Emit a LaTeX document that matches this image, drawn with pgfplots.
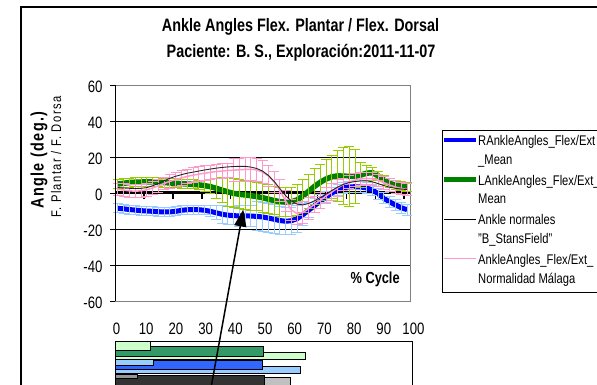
\documentclass[border=0pt]{standalone}
\usepackage{pgfplots}
\pgfplotsset{compat=1.18}
\usepackage{pgfplotstable}
\usepackage{fontspec}
\setmainfont{Liberation Sans}[FakeStretch=0.8]
\usetikzlibrary{arrows.meta}
\definecolor{errblue}{HTML}{99CCFF}
\definecolor{errgreen}{HTML}{99CC00}
\definecolor{pinkc}{HTML}{FF99CC}
\definecolor{mgreen}{HTML}{008000}
\definecolor{lgreen}{HTML}{CCFFCC}
\definecolor{dgreen}{HTML}{339966}
\definecolor{lblue}{HTML}{99CCFF}
\definecolor{mblue}{HTML}{3366FF}
\definecolor{sgray}{HTML}{969696}
\definecolor{dgray}{HTML}{333333}
\definecolor{lgray}{HTML}{C0C0C0}

\pgfplotstableread{
x r re l le n p pe
0 -8.5 2.5 5.0 2.5 3.0 2.0 3.5
2 -8.8 2.5 5.4 2.5 2.8 1.6 3.5
4 -9.2 2.5 5.8 2.5 2.6 1.2 3.5
6 -9.5 2.5 6.0 2.5 2.5 1.0 3.5
8 -9.8 2.5 6.1 2.5 2.6 1.2 3.5
10 -10.0 2.5 6.2 2.5 3.0 1.8 3.5
12 -10.2 2.5 6.2 2.5 4.0 2.8 3.5
14 -10.4 2.5 6.0 2.5 5.3 4.0 3.5
16 -10.5 2.5 5.8 2.5 6.8 5.3 3.5
18 -10.5 2.5 5.6 2.5 8.2 6.5 4.0
20 -10.2 2.5 5.4 2.5 9.3 7.5 4.0
22 -9.6 2.5 5.2 2.5 10.2 8.4 4.0
24 -9.3 2.5 5.0 2.5 11.0 9.2 4.0
26 -9.2 2.5 4.8 2.5 11.6 9.9 4.0
28 -9.3 2.5 4.5 2.5 12.2 10.5 4.0
30 -9.6 2.5 4.1 3.0 12.8 11.0 4.0
32 -10.2 3.0 3.5 4.0 13.3 11.5 4.0
34 -11.0 4.0 2.6 5.5 13.8 11.9 4.0
36 -11.8 5.0 1.6 7.0 14.2 12.2 4.0
38 -12.3 5.0 0.6 8.0 14.5 12.5 4.0
40 -12.6 5.0 -0.2 8.0 14.7 12.7 6.5
42 -12.7 6.0 -0.7 8.0 14.8 12.9 6.5
44 -12.7 6.0 -1.1 8.0 14.8 13.1 6.5
46 -12.8 6.0 -1.5 8.0 14.4 13.2 6.5
48 -13.0 8.0 -2.0 8.0 13.6 12.8 6.5
50 -13.3 8.0 -2.6 8.0 12.2 11.6 6.5
52 -13.9 8.0 -3.4 8.0 9.8 9.5 6.0
54 -14.6 8.0 -4.2 8.0 6.5 6.2 6.0
56 -15.3 8.0 -4.8 8.0 2.5 1.5 6.0
58 -15.7 7.5 -5.1 8.0 -1.5 -4.5 6.0
60 -15.4 7.5 -4.9 8.0 -4.5 -9.5 6.0
62 -14.2 7.5 -3.8 8.5 -6.2 -11.5 6.0
64 -12.0 6.0 -1.6 9.0 -6.6 -10.8 6.0
66 -9.5 4.0 1.0 9.5 -5.8 -8.6 6.0
68 -7.0 4.0 3.7 10.0 -4.3 -6.3 4.5
70 -4.6 4.0 6.0 10.0 -2.5 -4.0 4.5
72 -2.2 3.0 7.8 11.0 -0.6 -1.6 4.5
74 0.0 3.0 9.0 12.0 1.4 0.6 4.5
76 1.8 3.0 9.5 14.0 3.3 2.8 4.5
78 2.9 3.0 9.4 16.0 4.8 4.8 3.5
80 3.4 3.0 9.2 16.5 5.8 6.2 3.5
82 3.5 3.0 9.3 15.0 6.4 7.2 3.5
84 3.3 3.0 10.0 7.0 6.8 7.8 3.5
86 2.8 3.0 11.0 4.0 6.8 8.1 3.5
88 1.7 3.0 11.3 3.0 6.2 7.9 3.5
90 -0.4 3.0 9.5 2.5 5.2 7.0 3.5
92 -3.0 3.0 7.2 2.5 4.1 5.7 3.5
94 -5.0 3.0 5.3 2.5 3.2 4.4 3.5
96 -6.6 3.0 4.4 2.5 2.6 3.3 3.5
98 -8.2 3.0 3.8 2.5 2.2 2.5 3.5
100 -9.3 3.0 3.5 2.5 1.9 2.0 3.5
}\gaitdata

\begin{document}
\begin{tikzpicture}[x=1bp,y=1bp]
\useasboundingbox (0,0) rectangle (597,384);
\clip (0,0) rectangle (597,384);
\draw[line width=1.5bp] (21,377) rectangle (640,-30);

% titles
\node[anchor=base, font=\bfseries\fontsize{18bp}{18bp}\selectfont] at (300.5,352.3) {Ankle Angles Flex. Plantar / Flex. Dorsal};
\node[anchor=base, font=\bfseries\fontsize{18bp}{18bp}\selectfont] at (301,326.7) {Paciente: B. S., Exploración:2011-11-07};

% y labels
\node[rotate=90, font=\bfseries\fontsize{18bp}{18bp}\selectfont\addfontfeatures{LetterSpace=8}] at (39,224) {Angle (deg.)};
\node[rotate=90, font=\fontsize{14bp}{14bp}\selectfont\addfontfeatures{LetterSpace=10}] at (56,227) {F. Plantar / F. Dorsa};

\begin{axis}[at={(115bp,83bp)}, anchor=south west, scale only axis,
  width=295bp, height=216bp,
  xmin=-1, xmax=101, ymin=-60, ymax=60,
  xtick=\empty,
  ytick={-60,-40,-20,0,20,40,60},
  yticklabels={-60,-40,-20,0,20,40,60},
  ytick pos=left,
  tick align=outside, major tick length=5bp,
  ytick style={black, line width=0.8bp},
  axis line style={draw=gray, line width=0.8bp},
  yticklabel style={font=\fontsize{16.5bp}{16.5bp}\selectfont, anchor=east, xshift=-4bp, yshift=-1.5bp},
  clip=false]
  \draw[black, line width=0.7bp] (axis cs:-1,40) -- (axis cs:101,40);
  \draw[black, line width=0.7bp] (axis cs:-1,20) -- (axis cs:101,20);
  \draw[black, line width=0.7bp] (axis cs:-1,-20) -- (axis cs:101,-20);
  \draw[black, line width=0.7bp] (axis cs:-1,-40) -- (axis cs:101,-40);
  \draw[black, line width=3bp] (axis cs:-1,0) -- (axis cs:101,0);
  \pgfplotsinvokeforeach{9,19,29,39,49,59,69,79,89,99}{
    \draw[black, line width=1.6bp] (axis cs:#1,0) -- (axis cs:#1,-3.4);
  }
  \addplot[blue, line width=5bp, mark=none,
    error bars/.cd, y dir=both, y explicit,
    error bar style={errblue, line width=1bp},
    error mark options={errblue, rotate=90, mark size=5bp, line width=1bp}]
    table[x=x, y=r, y error=re]{\gaitdata};
  \addplot[mgreen, line width=5.5bp, mark=none,
    error bars/.cd, y dir=both, y explicit,
    error bar style={errgreen, line width=1bp},
    error mark options={errgreen, rotate=90, mark size=5bp, line width=1bp}]
    table[x=x, y=l, y error=le]{\gaitdata};
  \addplot[pinkc, line width=1.5bp, mark=none,
    error bars/.cd, y dir=both, y explicit,
    error bar style={pinkc, line width=1bp},
    error mark options={pinkc, rotate=90, mark size=5bp, line width=1bp}]
    table[x=x, y=p, y error=pe]{\gaitdata};
  \addplot[black!85, line width=0.9bp, mark=none] table[x=x, y=n]{\gaitdata};
  \draw[black, line width=0.8bp] (axis cs:-1,-60) -- (axis cs:-1,60);
  \node[anchor=base east, font=\bfseries\fontsize{16bp}{16bp}\selectfont, inner sep=0] at (axis cs:97.5,-50.5) {\% Cycle};
\end{axis}

% gait phase bars
\begin{axis}[at={(115bp,-16bp)}, anchor=south west, scale only axis,
  width=297bp, height=59bp,
  xmin=0, xmax=100, ymin=341, ymax=400, y dir=reverse,
  xtick={0,10,20,30,40,50,60,70,80,90,100},
  xticklabels={0,10,20,30,40,50,60,70,80,90,100},
  xticklabel pos=upper,
  ytick=\empty, major tick length=0,
  axis line style={black, line width=0.8bp},
  xticklabel style={font=\fontsize{16.5bp}{16.5bp}\selectfont, anchor=base, yshift=7bp, xshift=1.5bp},
  clip=true]
  \addplot[xbar, bar width=7.5, fill=lgreen, draw=black, line width=0.8bp] coordinates {(64,355.8)};
  \addplot[xbar, bar width=10, fill=dgreen, draw=black, line width=0.8bp] coordinates {(50,351)};
  \addplot[xbar, bar width=9, fill=lgreen, draw=black, line width=0.8bp] coordinates {(12,346.2)};
  \addplot[xbar, bar width=7, fill=lblue, draw=black, line width=0.8bp] coordinates {(62.5,369.5)};
  \addplot[xbar, bar width=9.5, fill=mblue, draw=black, line width=0.8bp] coordinates {(49.7,364.8)};
  \addplot[xbar, bar width=6.2, fill=lblue, draw=black, line width=0.8bp] coordinates {(13,362.6)};
  \addplot[xbar, bar width=10, fill=lgray, draw=black, line width=0.8bp] coordinates {(59,382)};
  \addplot[xbar, bar width=10, fill=dgray, draw=black, line width=0.8bp] coordinates {(50.3,380)};
  \addplot[xbar, bar width=4, fill=sgray, draw=black, line width=0.8bp] coordinates {(7.6,376.2)};
\end{axis}

% arrow
\draw[black, line width=1.5bp, -{Triangle[length=17bp,width=12bp]}] (208.8,-16) -- (243.3,174.5);

% legend
\draw[black, line width=0.8bp, fill=white] (442,254) rectangle (660,92);
\draw[blue, line width=4.5bp] (444,244) -- (476,244);
\draw[mgreen, line width=5bp] (444,204.5) -- (476,204.5);
\draw[black, line width=1bp] (444,164.5) -- (476,164.5);
\draw[pinkc, line width=1.5bp] (444,125.5) -- (476,125.5);
\begin{scope}[every node/.style={anchor=base west, inner sep=0, font=\fontsize{14bp}{14bp}\selectfont}]
\node at (478,239) {RAnkleAngles\_Flex/Ext};
\node at (478,220) {\_Mean};
\node at (478,199) {LAnkleAngles\_Flex/Ext\_};
\node at (478,180.5) {Mean};
\node at (478,160) {Ankle normales};
\node at (478,141) {"B\_StansField"};
\node at (478,120) {AnkleAngles\_Flex/Ext\_};
\node at (478,101) {Normalidad Málaga};
\end{scope}
\end{tikzpicture}
\end{document}
